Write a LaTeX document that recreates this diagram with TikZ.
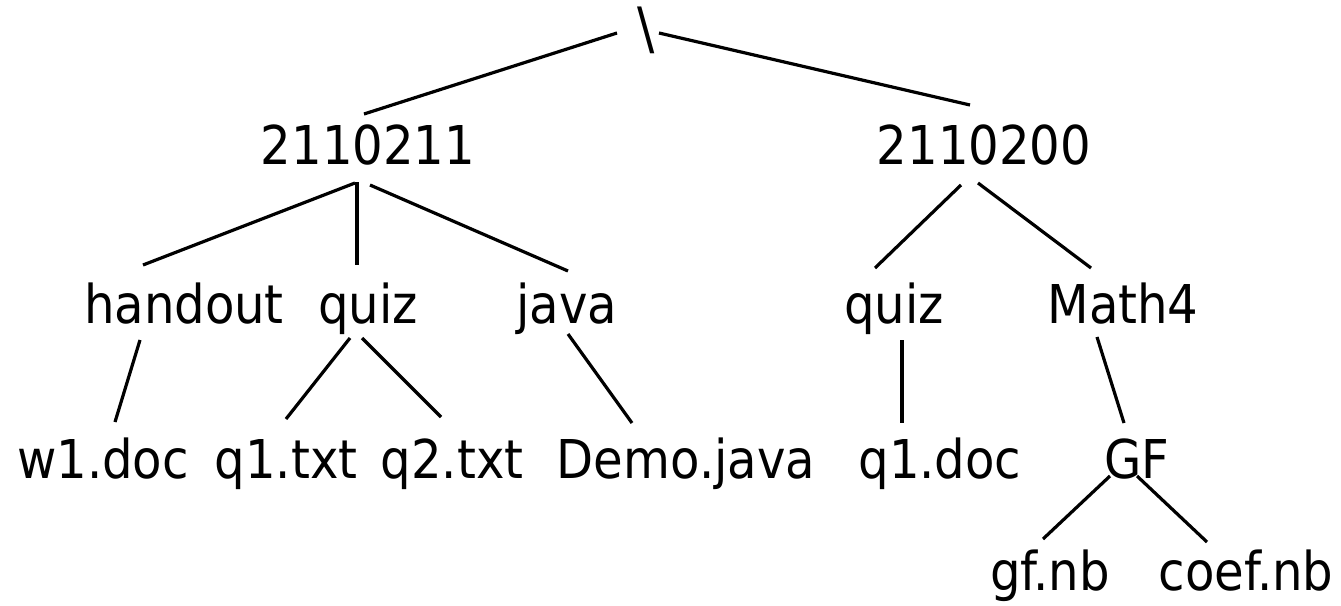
\documentclass[tikz,border=0pt]{standalone}
\usepackage{fontspec}
\setmainfont{DejaVu Sans Condensed}
\begin{document}
\begin{tikzpicture}[x=1pt,y=-1pt,
  entry/.style={anchor=base,inner sep=0pt,font=\fontsize{53.5}{60}\selectfont},
  branch/.style={line width=3.2pt}]
\useasboundingbox (0,0) rectangle (1341,605);
% root and directories
\node[entry,font=\fontsize{57}{60}\selectfont] (root) at (646,48) {\textbackslash};
\node[entry] (A) at (368,164) {2110211};
\node[entry] (B) at (984,164) {2110200};
\node[entry] (H) at (184,323) {handout};
\node[entry] (Q) at (368,323) {quiz};
\node[entry] (J) at (567,323) {java};
\node[entry] (Q2) at (894,323) {quiz};
\node[entry] (M) at (1123,323) {Math4};
\node[entry] (W) at (103,478) {w1.doc};
\node[entry] (T1) at (286,478) {q1.txt};
\node[entry] (T2) at (452,478) {q2.txt};
\node[entry] (D) at (686,478) {Demo.java};
\node[entry] (D1) at (940,478) {q1.doc};
\node[entry] (G) at (1137,478) {GF};
\node[entry] (N1) at (1050,590) {gf.nb};
\node[entry] (N2) at (1246,590) {coef.nb};
% branches
\draw[branch] ([shift={(-29,-15)}]root.base) -- ([shift={(-4,-50)}]A.base);
\draw[branch] ([shift={(13,-15)}]root.base) -- ([shift={(-14,-59)}]B.base);
\draw[branch] ([shift={(-13,19)}]A.base) -- ([shift={(-41,-58)}]H.base);
\draw[branch] ([shift={(-11,18)}]A.base) -- ([shift={(-11,-58)}]Q.base);
\draw[branch] ([shift={(2,21)}]A.base) -- ([shift={(1,-52)}]J.base);
\draw[branch] ([shift={(-23,21)}]B.base) -- ([shift={(-19,-55)}]Q2.base);
\draw[branch] ([shift={(-6,19)}]B.base) -- ([shift={(-32,-55)}]M.base);
\draw[branch] ([shift={(-44,17)}]H.base) -- ([shift={(12,-56)}]W.base);
\draw[branch] ([shift={(-18,15)}]Q.base) -- ([shift={(0,-59)}]T1.base);
\draw[branch] ([shift={(-6,15)}]Q.base) -- ([shift={(-11,-61)}]T2.base);
\draw[branch] ([shift={(1,11)}]J.base) -- ([shift={(-54,-55)}]D.base);
\draw[branch] ([shift={(8,17)}]Q2.base) -- ([shift={(-38,-55)}]D1.base);
\draw[branch] ([shift={(-26,14)}]M.base) -- ([shift={(-13,-55)}]G.base);
\draw[branch] ([shift={(-27,-2)}]G.base) -- ([shift={(-7,-51)}]N1.base);
\draw[branch] ([shift={(0,-2)}]G.base) -- ([shift={(-39,-48)}]N2.base);
\end{tikzpicture}
\end{document}
